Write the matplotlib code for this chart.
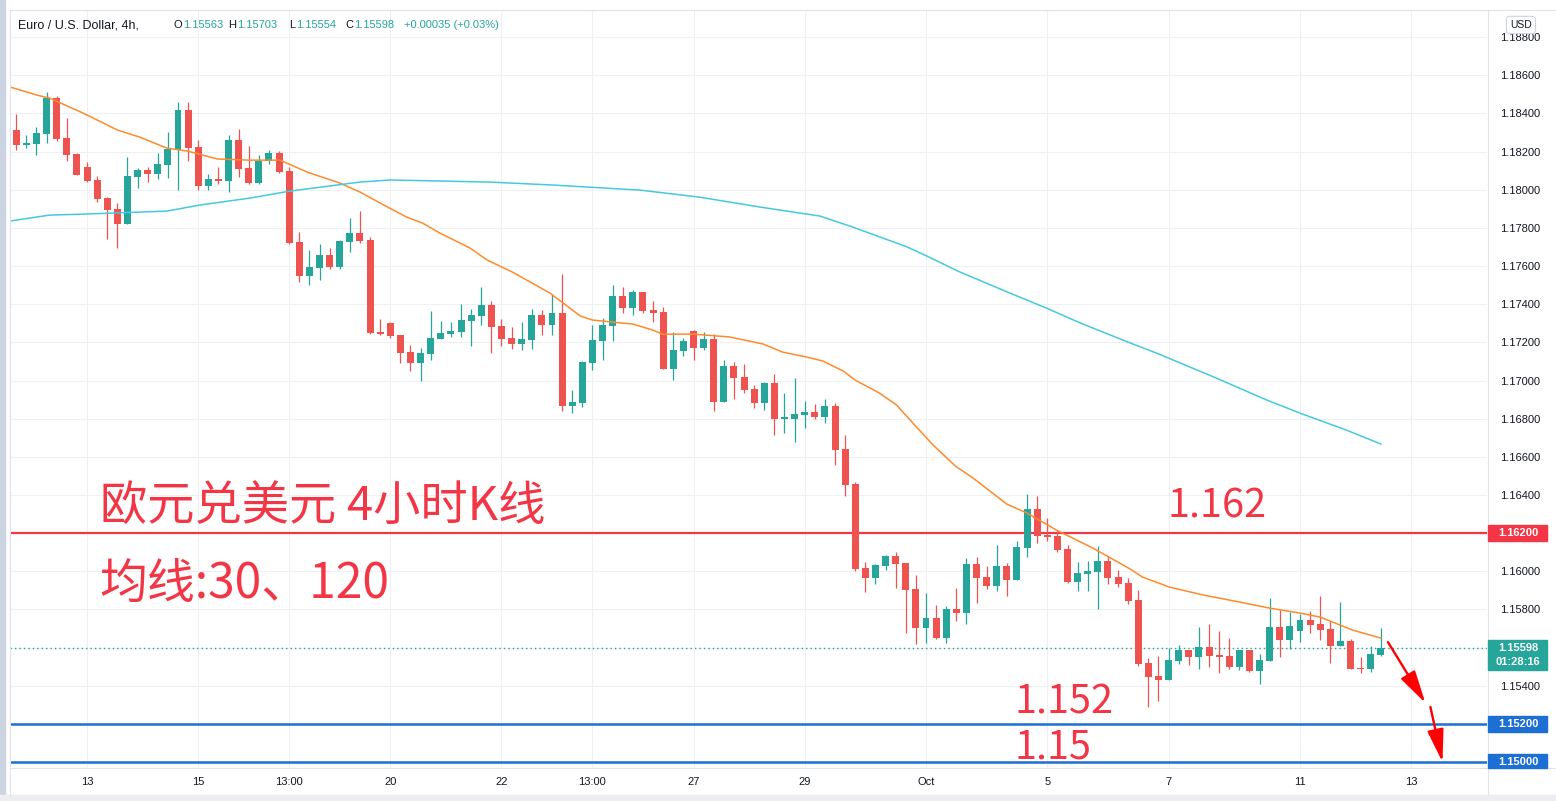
import numpy as np
import matplotlib
matplotlib.use("Agg")
import matplotlib.pyplot as plt
from matplotlib.patches import Rectangle
from matplotlib.lines import Line2D
from matplotlib.transforms import blended_transform_factory

# EUR/USD 4h candles
OPEN = [1.18313, 1.18236, 1.18241, 1.18293, 1.18480, 1.18271, 1.18187, 1.18119, 1.18051, 1.17958,
        1.17899, 1.17820, 1.18066, 1.18103, 1.18082, 1.18129, 1.18208, 1.18417, 1.18223, 1.18019,
        1.18056, 1.18045, 1.18260, 1.18113, 1.18036, 1.18152, 1.18192, 1.18098, 1.17726, 1.17549,
        1.17591, 1.17657, 1.17596, 1.17726, 1.17773, 1.17736, 1.17255, 1.17301, 1.17238, 1.17151,
        1.17093, 1.17140, 1.17219, 1.17245, 1.17255, 1.17313, 1.17339, 1.17395, 1.17285, 1.17222,
        1.17191, 1.17212, 1.17343, 1.17291, 1.17353, 1.16866, 1.16882, 1.17091, 1.17207, 1.17285,
        1.17443, 1.17380, 1.17464, 1.17369, 1.17359, 1.17060, 1.17154, 1.17259, 1.17170, 1.17217,
        1.16887, 1.17076, 1.17018, 1.16955, 1.16883, 1.16987, 1.16800, 1.16800, 1.16820, 1.16835,
        1.16810, 1.16866, 1.16641, 1.16457, 1.16017, 1.15966, 1.16029, 1.16080, 1.16043, 1.15907,
        1.15704, 1.15755, 1.15652, 1.15802, 1.15783, 1.16038, 1.15970, 1.15924, 1.16027, 1.15956,
        1.16123, 1.16326, 1.16192, 1.16186, 1.16117, 1.15945, 1.15987, 1.15998, 1.16054, 1.15970,
        1.15938, 1.15849, 1.15519, 1.15451, 1.15432, 1.15531, 1.15587, 1.15552, 1.15603, 1.15561,
        1.15556, 1.15500, 1.15587, 1.15479, 1.15531, 1.15708, 1.15641, 1.15688, 1.15744, 1.15724,
        1.15697, 1.15610, 1.15634, 1.15493, 1.15489, 1.15563]
HIGH = [1.18396, 1.18286, 1.18328, 1.18510, 1.18490, 1.18375, 1.18190, 1.18145, 1.18071, 1.17963,
        1.17930, 1.18171, 1.18113, 1.18119, 1.18192, 1.18302, 1.18459, 1.18459, 1.18260, 1.18082,
        1.18119, 1.18286, 1.18318, 1.18229, 1.18182, 1.18208, 1.18203, 1.18119, 1.17778, 1.17684,
        1.17715, 1.17694, 1.17736, 1.17851, 1.17888, 1.17752, 1.17322, 1.17306, 1.17240, 1.17186,
        1.17170, 1.17364, 1.17312, 1.17306, 1.17401, 1.17374, 1.17490, 1.17416, 1.17322, 1.17280,
        1.17306, 1.17374, 1.17369, 1.17453, 1.17558, 1.16950, 1.17100, 1.17291, 1.17327, 1.17500,
        1.17490, 1.17474, 1.17466, 1.17416, 1.17385, 1.17254, 1.17222, 1.17264, 1.17254, 1.17243,
        1.17107, 1.17097, 1.17086, 1.16976, 1.16990, 1.17034, 1.16934, 1.17013, 1.16892, 1.16877,
        1.16903, 1.16882, 1.16714, 1.16468, 1.16048, 1.16038, 1.16085, 1.16101, 1.16045, 1.15980,
        1.15886, 1.15823, 1.15818, 1.15912, 1.16069, 1.16075, 1.16027, 1.16138, 1.16043, 1.16159,
        1.16405, 1.16394, 1.16279, 1.16218, 1.16138, 1.16048, 1.16054, 1.16132, 1.16080, 1.16007,
        1.15965, 1.15902, 1.15545, 1.15556, 1.15598, 1.15613, 1.15590, 1.15708, 1.15724, 1.15687,
        1.15650, 1.15590, 1.15590, 1.15566, 1.15860, 1.15797, 1.15786, 1.15776, 1.15792, 1.15870,
        1.15739, 1.15839, 1.15645, 1.15551, 1.15608, 1.15703]
LOW = [1.18208, 1.18218, 1.18183, 1.18246, 1.18255, 1.18150, 1.18075, 1.18042, 1.17935, 1.17741,
       1.17694, 1.17818, 1.18009, 1.18040, 1.18056, 1.18061, 1.17998, 1.18150, 1.17998, 1.17998,
       1.18030, 1.17988, 1.18066, 1.18030, 1.18031, 1.18136, 1.18089, 1.17715, 1.17516, 1.17502,
       1.17528, 1.17586, 1.17586, 1.17673, 1.17720, 1.17245, 1.17240, 1.17224, 1.17093, 1.17051,
       1.16999, 1.17109, 1.17217, 1.17229, 1.17229, 1.17182, 1.17292, 1.17145, 1.17181, 1.17165,
       1.17160, 1.17165, 1.17238, 1.17238, 1.16840, 1.16829, 1.16861, 1.17055, 1.17107, 1.17207,
       1.17353, 1.17343, 1.17353, 1.17306, 1.17058, 1.17002, 1.17128, 1.17107, 1.17160, 1.16840,
       1.16885, 1.16904, 1.16936, 1.16857, 1.16847, 1.16716, 1.16726, 1.16679, 1.16752, 1.16800,
       1.16779, 1.16558, 1.16396, 1.16003, 1.15893, 1.15935, 1.16008, 1.15914, 1.15678, 1.15620,
       1.15626, 1.15646, 1.15626, 1.15741, 1.15725, 1.15835, 1.15909, 1.15898, 1.15872, 1.15954,
       1.16076, 1.16150, 1.16160, 1.16102, 1.15940, 1.15898, 1.15898, 1.15804, 1.15935, 1.15919,
       1.15830, 1.15505, 1.15290, 1.15322, 1.15430, 1.15515, 1.15510, 1.15489, 1.15500, 1.15468,
       1.15489, 1.15484, 1.15474, 1.15411, 1.15529, 1.15552, 1.15594, 1.15631, 1.15678, 1.15641,
       1.15521, 1.15608, 1.15487, 1.15468, 1.15474, 1.15554]
CLOSE = [1.18236, 1.18246, 1.18297, 1.18480, 1.18265, 1.18182, 1.18077, 1.18045, 1.17951, 1.17893,
         1.17820, 1.18071, 1.18103, 1.18082, 1.18134, 1.18213, 1.18417, 1.18218, 1.18019, 1.18056,
         1.18045, 1.18260, 1.18108, 1.18035, 1.18152, 1.18192, 1.18094, 1.17720, 1.17549, 1.17596,
         1.17657, 1.17596, 1.17731, 1.17773, 1.17731, 1.17250, 1.17245, 1.17235, 1.17145, 1.17093,
         1.17144, 1.17222, 1.17249, 1.17259, 1.17317, 1.17343, 1.17395, 1.17282, 1.17217, 1.17191,
         1.17217, 1.17343, 1.17291, 1.17353, 1.16866, 1.16887, 1.17097, 1.17212, 1.17291, 1.17443,
         1.17380, 1.17464, 1.17364, 1.17353, 1.17060, 1.17160, 1.17207, 1.17170, 1.17217, 1.16887,
         1.17076, 1.17014, 1.16952, 1.16883, 1.16987, 1.16800, 1.16804, 1.16824, 1.16835, 1.16810,
         1.16866, 1.16637, 1.16454, 1.16013, 1.15966, 1.16033, 1.16080, 1.16040, 1.15903, 1.15704,
         1.15755, 1.15652, 1.15802, 1.15783, 1.16038, 1.15966, 1.15924, 1.16027, 1.15956, 1.16127,
         1.16326, 1.16186, 1.16181, 1.16113, 1.15945, 1.15991, 1.16001, 1.16054, 1.15966, 1.15935,
         1.15846, 1.15515, 1.15447, 1.15432, 1.15535, 1.15587, 1.15552, 1.15603, 1.15557, 1.15552,
         1.15500, 1.15587, 1.15479, 1.15535, 1.15708, 1.15641, 1.15713, 1.15744, 1.15720, 1.15694,
         1.15610, 1.15634, 1.15489, 1.15489, 1.15566, 1.15598]

# moving averages (bar index, value) sampled along the drawn lines
MA30_X = [-0.6, 2.05, 3.3, 6.6, 10.0, 12.2, 14.9, 16.9, 19.9, 23.1, 26.1, 28.8, 32.0, 34.0, 36.0,
          38.6, 40.2, 41.9, 44.9, 46.6, 49.1, 52.8, 54.1, 55.8, 57.0, 59.0, 61.0, 63.0, 63.9, 67.0,
          70.6, 73.9, 75.8, 78.2, 79.8, 81.8, 83.0, 85.4, 87.1, 88.7, 90.7, 92.9, 94.8, 98.0, 100.0,
          102.9, 106.5, 110.2, 111.4, 114.1, 117.4, 121.0, 124.0, 127.0, 129.0, 132.2, 135.0]
MA30_Y = [1.18538, 1.18496, 1.18480, 1.18402, 1.18313, 1.18276, 1.18218, 1.18203, 1.18161, 1.18155,
          1.18155, 1.18092, 1.18035, 1.17988, 1.17930, 1.17857, 1.17825, 1.17773, 1.17694, 1.17631,
          1.17568, 1.17458, 1.17406, 1.17338, 1.17317, 1.17306, 1.17296, 1.17264, 1.17243, 1.17243,
          1.17228, 1.17191, 1.17149, 1.17123, 1.17102, 1.17050, 1.17002, 1.16934, 1.16871, 1.16777,
          1.16662, 1.16552, 1.16483, 1.16352, 1.16305, 1.16216, 1.16122, 1.16012, 1.15970, 1.15917,
          1.15876, 1.15839, 1.15807, 1.15781, 1.15760, 1.15692, 1.15650]
MA120_X = [-0.6, 3.3, 6.6, 14.9, 18.2, 23.1, 27.1, 34.0, 37.0, 46.9, 53.3, 61.7, 67.6, 73.6, 79.5,
           82.5, 85.4, 88.1, 90.1, 93.3, 98.0, 101.9, 105.2, 109.9, 112.8, 118.4, 123.7, 127.0,
           131.6, 135.0]
MA120_Y = [1.17836, 1.17867, 1.17872, 1.17888, 1.17920, 1.17956, 1.17993, 1.18040, 1.18051, 1.18040,
           1.18024, 1.17998, 1.17961, 1.17909, 1.17862, 1.17809, 1.17753, 1.17701, 1.17652, 1.17570,
           1.17465, 1.17380, 1.17303, 1.17203, 1.17144, 1.17020, 1.16898, 1.16829, 1.16740, 1.16667]

TICK_POS = [7, 18, 27, 37, 48, 57, 67, 78, 90, 102, 114, 127, 138]
TICK_LABELS = ["13", "15", "13:00", "20", "22", "13:00", "27", "29", "Oct", "5", "7", "11", "13"]

RED_LEVEL = 1.162
BLUE_LEVELS = [1.152, 1.150]
LAST = CLOSE[-1]

UP = "#26a69a"
DOWN = "#ef5350"
INK = "#131722"
GRID = "#eef0f4"
EDGE = "#e0e3eb"
LEVEL_RED = "#f23645"
LEVEL_BLUE = "#1e6fd4"
ORANGE = "#ff8a2b"
CYAN = "#45c9dd"

W, H = 1556, 801
plt.rcParams["font.family"] = ["Liberation Sans", "DejaVu Sans"]
CJK = ["Noto Sans CJK SC", "DejaVu Sans"]

fig = plt.figure(figsize=(W / 100, H / 100), dpi=100)
fig.patch.set_facecolor("white")
ax = fig.add_axes([10 / W, (H - 768) / H, 1477 / W, 758 / H])
ax.set_xlim(-0.62, 145.5)
ax.set_ylim(1.14969, 1.18942)
px = (1.18942 - 1.14969) / 758  # price per pixel

for s in ax.spines.values():
    s.set_visible(False)
ax.grid(True, color=GRID, lw=0.8, zorder=0)
ax.set_axisbelow(True)

ax.yaxis.tick_right()
yt = np.round(np.arange(1.150, 1.1881, 0.002), 3)
ax.set_yticks(yt, [f"{v:.5f}" for v in yt])
ax.set_xticks(TICK_POS, TICK_LABELS)
ax.tick_params(axis="y", length=0, pad=9.4, labelsize=8, labelcolor=INK)
ax.tick_params(axis="x", length=0, pad=6.5, labelsize=8, labelcolor=INK)

# candles
idx = np.arange(len(OPEN))
o, h, l, c = map(np.array, (OPEN, HIGH, LOW, CLOSE))
colors = np.where(c >= o, UP, DOWN)
ax.vlines(idx, l, h, colors=colors, lw=0.9, zorder=3)
body = np.maximum(np.abs(c - o), px * 1.2)
ax.bar(idx, body, bottom=np.minimum(o, c), width=0.69, color=colors, zorder=4)

ax.plot(MA30_X, MA30_Y, color=ORANGE, lw=1.1, zorder=5)
ax.plot(MA120_X, MA120_Y, color=CYAN, lw=1.1, zorder=5)

# levels
ax.axhline(RED_LEVEL, color=LEVEL_RED, lw=1.6, zorder=2)
for lv in BLUE_LEVELS:
    ax.axhline(lv, color=LEVEL_BLUE, lw=1.8, zorder=2)
ax.axhline(LAST, color=UP, lw=1.0, ls=(0, (1, 2.2)), zorder=2)

# annotations
ax.text(8.3, 1.16263, "欧元兑美元 4小时K线", family=CJK, fontsize=34,
        color=LEVEL_RED, va="baseline", zorder=6)
ax.text(8.2, 1.15860, "均线:30、120", family=CJK, fontsize=34.5,
        color=LEVEL_RED, va="baseline", zorder=6)
ax.text(113.9, 1.16284, "1.162", family=CJK, fontsize=28.5, color=LEVEL_RED, va="baseline")
ax.text(98.8, 1.15257, "1.152", family=CJK, fontsize=28.5, color=LEVEL_RED, va="baseline")
ax.text(98.8, 1.15021, "1.15", family=CJK, fontsize=28.5, color=LEVEL_RED, va="baseline")

arrow = dict(arrowstyle="-|>,head_length=2.0,head_width=0.5", color="#ff0000",
             lw=1.7, shrinkA=0, shrinkB=0, mutation_scale=10)
ax.annotate("", xy=(139.4, 1.15310), xytext=(135.7, 1.15629), arrowprops=arrow, zorder=7)
ax.annotate("", xy=(141.1, 1.15000), xytext=(139.9, 1.15289), arrowprops=arrow, zorder=7)

# frame pieces of the trading view window
def fpx(x, y):
    return x / W, 1 - y / H

fig.add_artist(Rectangle((0, 0), 5 / W, 1, transform=fig.transFigure, color="#cdd4e1", zorder=0))
fig.add_artist(Rectangle((0, 0), 1, 6 / H, transform=fig.transFigure, color="#eceef2", zorder=0))
for (x0, y0), (x1, y1) in [((10, 768), (W, 768)), ((1487.5, 10), (1487.5, 795)),
                           ((10, 10), (W, 10)), ((10, 10), (10, 795))]:
    a, b = fpx(x0, y0)
    cc, d = fpx(x1, y1)
    fig.add_artist(Line2D([a, cc], [b, d], transform=fig.transFigure, color=EDGE, lw=0.8))

# price tags on the right axis
bt = blended_transform_factory(fig.transFigure, ax.transData)


def tag(price, lines, color, top_px=8, bottom_px=8):
    fig.add_artist(Rectangle((1488 / W, price - bottom_px * px), 59 / W,
                             (top_px + bottom_px) * px, transform=bt,
                             color=color, zorder=5, clip_on=False))
    for k, t in enumerate(lines):
        fig.text(1518 / W, price - k * 14 * px, t, transform=bt, ha="center",
                 va="center", color="white", fontsize=8, fontweight="bold", zorder=6)


tag(RED_LEVEL, ["1.16200"], LEVEL_RED)
tag(BLUE_LEVELS[0], ["1.15200"], LEVEL_BLUE)
tag(BLUE_LEVELS[1], ["1.15000"], LEVEL_BLUE, bottom_px=6)
tag(LAST, [f"{LAST:.5f}", "01:28:16"], UP, top_px=8, bottom_px=22)

fig.text(*fpx(1521, 25), "USD", ha="center", va="center", fontsize=7.5, color=INK, zorder=6,
         bbox=dict(boxstyle="round,pad=0.35", fc="white", ec="#d1d4dc", lw=0.8))

# header legend
hy = 25
fig.text(*fpx(18, hy), "Euro / U.S. Dollar, 4h,", fontsize=9, color=INK, va="center")
for xv, lab, val in [(183, "O", OPEN[-1]), (237, "H", HIGH[-1]),
                     (296, "L", LOW[-1]), (354, "C", CLOSE[-1])]:
    fig.text(*fpx(xv - 0.5, hy), lab, fontsize=8, color=INK, va="center", ha="right")
    fig.text(*fpx(xv, hy), f"{val:.5f}", fontsize=8, color=UP, va="center")
chg = CLOSE[-1] - OPEN[-1]
fig.text(*fpx(404, hy), f"+{chg:.5f} (+{chg / OPEN[-1] * 100:.2f}%)",
         fontsize=8, color=UP, va="center")

fig.savefig("out.png", dpi=100)
